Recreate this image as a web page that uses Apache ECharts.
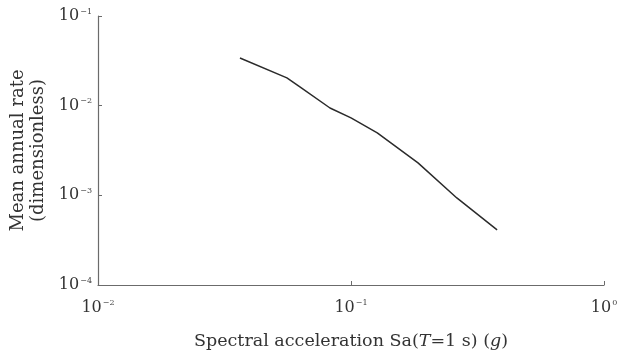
<!DOCTYPE html>
<html>
<head>
<meta charset="utf-8">
<script src="https://cdn.jsdelivr.net/npm/echarts@6/dist/echarts.min.js"></script>
<style>
  html, body { margin: 0; padding: 0; background: #fff; }
  #chart { width: 618px; height: 355px; }
</style>
</head>
<body>
<div id="chart"></div>
<script>
// hazard curve
const saValues = [0.0364, 0.0558, 0.0628, 0.0826, 0.100, 0.127, 0.184, 0.262, 0.378]
const rateValues = [0.0340, 0.0204, 0.0162, 0.00942, 0.0073, 0.00497, 0.00230, 0.000935, 0.000411]

const xTickExps = [-2, -1, 0]
const yTickExps = [-4, -3, -2, -1]

const fontFam = 'DejaVu Serif'
const axisColor = '#6b6b6b'

const seriesData = saValues.map((x, i) => [x, rateValues[i]])

const powLabel = (v) => {
    const e = Math.round(Math.log10(v))
    return '{b|10}{s|' + (e < 0 ? '\u2212' + (-e) : e) + '}'
}
const richPow = {
    b: { fontSize: 16, fontFamily: fontFam, color: '#333' },
    s: { fontSize: 8, fontFamily: fontFam, color: '#444', verticalAlign: 'top', padding: [0, 0, 9, 1] }
}

const chart = echarts.init(document.getElementById('chart'))
const opt = {
    animation: false,
    backgroundColor: '#fff',
    grid: { left: 98, right: 14, top: 16, bottom: 70, outerBoundsMode: 'none', containLabel: false },
    xAxis: {
        type: 'log',
        logBase: 10,
        min: Math.pow(10, xTickExps[0]),
        max: Math.pow(10, xTickExps[xTickExps.length - 1]),
        name: '{n|Spectral acceleration Sa(}{i|T}{n|=1 s) (}{i|g}{n|)}',
        nameLocation: 'middle',
        nameGap: 47,
        nameTextStyle: {
            rich: {
                n: { fontSize: 17.5, fontFamily: fontFam, color: '#333' },
                i: { fontSize: 17.5, fontFamily: fontFam, fontStyle: 'italic', color: '#333' }
            }
        },
        axisLine: { lineStyle: { color: axisColor, width: 1.2 } },
        axisTick: { inside: true, length: 4, lineStyle: { color: axisColor } },
        axisLabel: { formatter: powLabel, rich: richPow, margin: 14 },
        splitLine: { show: false },
        minorTick: { show: false }
    },
    yAxis: {
        type: 'log',
        logBase: 10,
        min: Math.pow(10, yTickExps[0]),
        max: Math.pow(10, yTickExps[yTickExps.length - 1]),
        name: 'Mean annual rate\n(dimensionless)',
        nameLocation: 'middle',
        nameGap: 49,
        nameTextStyle: { fontSize: 18, fontFamily: fontFam, color: '#333', lineHeight: 20 },
        axisLine: { show: true, lineStyle: { color: axisColor, width: 1.2 } },
        axisTick: { show: true, inside: true, length: 4, lineStyle: { color: axisColor } },
        axisLabel: { formatter: powLabel, rich: richPow, margin: 6 },
        splitLine: { show: false }
    },
    series: [{
        type: 'line',
        data: seriesData,
        showSymbol: false,
        smooth: false,
        lineStyle: { color: '#2b2b2b', width: 1.5 }
    }]
}
chart.setOption(opt)
</script>
</body>
</html>
